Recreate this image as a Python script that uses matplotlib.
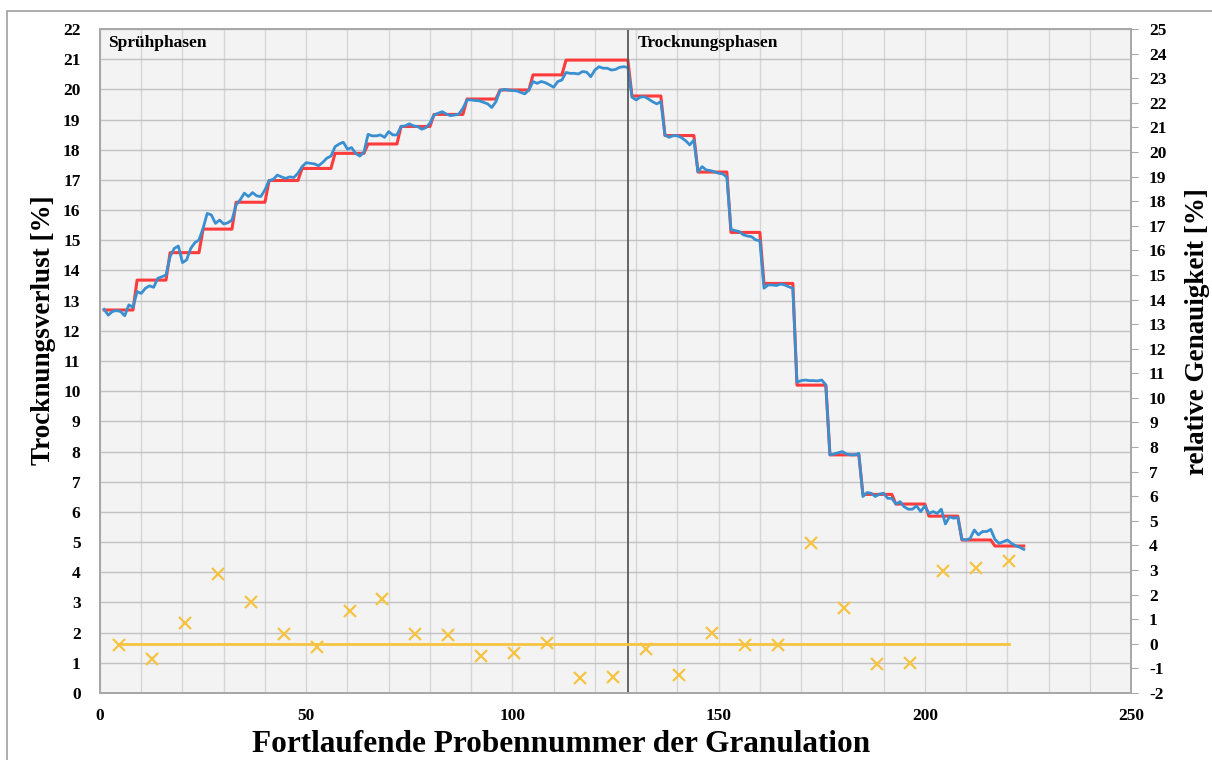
import numpy as np
import matplotlib.pyplot as plt
from matplotlib.patches import Rectangle

plt.rcParams['font.family'] = ['Liberation Serif', 'DejaVu Serif']
plt.rcParams['font.weight'] = 'bold'
plt.rcParams['axes.unicode_minus'] = False

# Trocknungsverlust je Probe (blau), Proben 1..224
verlust = [
    12.71, 12.52, 12.64, 12.67, 12.64, 12.50, 12.86, 12.78,
    13.30, 13.24, 13.41, 13.49, 13.44, 13.74, 13.79, 13.85,
    14.46, 14.73, 14.81, 14.26, 14.35, 14.73, 14.92, 15.01,
    15.40, 15.89, 15.84, 15.56, 15.67, 15.54, 15.58, 15.67,
    16.17, 16.34, 16.56, 16.45, 16.58, 16.47, 16.45, 16.67,
    16.98, 17.02, 17.16, 17.10, 17.05, 17.10, 17.08, 17.22,
    17.44, 17.57, 17.55, 17.53, 17.47, 17.58, 17.72, 17.79,
    18.10, 18.19, 18.25, 18.02, 18.07, 17.88, 17.79, 17.92,
    18.51, 18.46, 18.46, 18.49, 18.41, 18.60, 18.49, 18.49,
    18.77, 18.79, 18.86, 18.79, 18.77, 18.68, 18.73, 18.88,
    19.15, 19.21, 19.26, 19.18, 19.13, 19.15, 19.18, 19.37,
    19.65, 19.65, 19.63, 19.62, 19.57, 19.52, 19.40, 19.59,
    19.96, 20.00, 19.98, 19.96, 19.95, 19.90, 19.85, 19.98,
    20.26, 20.20, 20.26, 20.22, 20.15, 20.07, 20.26, 20.31,
    20.56, 20.53, 20.53, 20.51, 20.59, 20.57, 20.42, 20.64,
    20.75, 20.70, 20.70, 20.64, 20.66, 20.73, 20.75, 20.73,
    19.74, 19.65, 19.74, 19.76, 19.68, 19.59, 19.52, 19.59,
    18.49, 18.41, 18.47, 18.46, 18.40, 18.30, 18.16, 18.32,
    17.27, 17.44, 17.33, 17.31, 17.27, 17.22, 17.20, 17.09,
    15.36, 15.32, 15.29, 15.18, 15.14, 15.12, 15.01, 14.99,
    13.41, 13.52, 13.52, 13.50, 13.55, 13.52, 13.46, 13.41,
    10.30, 10.35, 10.37, 10.35, 10.35, 10.34, 10.37, 10.21,
    7.89, 7.92, 7.96, 8.00, 7.92, 7.89, 7.89, 7.94,
    6.51, 6.64, 6.62, 6.51, 6.59, 6.62, 6.45, 6.45,
    6.26, 6.34, 6.17, 6.09, 6.09, 6.20, 6.01, 6.20,
    5.95, 6.01, 5.95, 6.09, 5.60, 5.84, 5.79, 5.82,
    5.09, 5.07, 5.12, 5.40, 5.24, 5.35, 5.35, 5.42,
    5.09, 4.96, 5.01, 5.07, 4.96, 4.88, 4.83, 4.76,
]

# Referenzwert je Block von 8 Proben (rot)
referenz = [12.69, 13.68, 14.59, 15.37, 16.26, 16.98, 17.38, 17.88,
            18.19, 18.77, 19.17, 19.68, 19.98, 20.48, 20.97, 20.97,
            19.78, 18.47, 17.26, 15.26, 13.57, 10.20, 7.89, 6.58,
            6.26, 5.86, 5.07, 4.87]

# relative Genauigkeit je Block (gelb)
genauigkeit = [-0.05, -0.63, 0.83, 2.83, 1.72, 0.41, -0.12, 1.33,
               1.82, 0.41, 0.36, -0.50, -0.36, 0.02, -1.38, -1.34,
               -0.22, -1.27, 0.43, -0.05, -0.05, 4.09, 1.44, -0.82,
               -0.77, 2.97, 3.07, 3.37]
nulllinie = 0.0

block = 8
phasenwechsel = 128

probe = np.arange(1, len(verlust) + 1)
ref_kurve = np.repeat(referenz, block)
mitte = np.arange(len(genauigkeit)) * block + (block + 1) / 2

blau = '#3a8fd0'
rot = '#ff3b3b'
gelb = '#f6c342'

fig = plt.figure(figsize=(12.12, 7.6), dpi=100)
ax = fig.add_axes([100/1212, 1 - 693/760, 1031/1212, 664/760])
ax2 = ax.twinx()

ax.set_facecolor('#f3f3f3')
ax.plot(probe, ref_kurve, color=rot, lw=2.2, zorder=3)
ax.plot(probe, verlust, color=blau, lw=2.0, zorder=4)
ax.axvline(phasenwechsel, color='#5a5a5a', lw=1.3, zorder=5)

ax.set_xlim(0, 250)
ax.set_ylim(0, 22)
ax.set_xticks(np.arange(0, 251, 50))
ax.set_xticks(np.arange(0, 251, 10), minor=True)
ax.set_yticks(np.arange(0, 23, 1))
ax.grid(axis='x', which='both', color='#d6d6d6', lw=1.0, zorder=0)
ax.grid(axis='y', which='major', color='#c2c2c2', lw=1.0, zorder=0)
ax.set_axisbelow(True)
ax.tick_params(axis='both', which='both', length=0, labelsize=12.5)
ax.tick_params(axis='y', pad=14)
ax.tick_params(axis='x', pad=11)

ax2.plot(mitte, genauigkeit, ls='none', marker='x', ms=9, mew=1.6, color=gelb, zorder=6)
ax2.plot([mitte[0], mitte[-1]], [nulllinie, nulllinie], color=gelb, lw=2.0, zorder=5)
ax2.set_ylim(-2, 25)
ax2.set_yticks(np.arange(-2, 26, 1))
ax2.tick_params(axis='y', length=5, color='#a8a8a8', labelsize=12.5, pad=8)

for a in (ax, ax2):
    for s in a.spines.values():
        s.set_color('#a8a8a8')
        s.set_linewidth(1.3)

ax.set_xlabel('Fortlaufende Probennummer der Granulation', fontsize=22.5,
              fontweight='bold')
ax.xaxis.set_label_coords(0.447, -0.055)
ax.set_ylabel('Trocknungsverlust [%]', fontsize=19.5, fontweight='bold')
ax.yaxis.set_label_coords(-0.043, 0.547)
ax2.set_ylabel('relative Genauigkeit [%]', fontsize=19.5, fontweight='bold')
ax2.yaxis.set_label_coords(1.052, 0.545)

ax.text(2, 21.55, 'Sprühphasen', fontsize=12.5, fontweight='bold', va='center', zorder=7)
ax.text(130.5, 21.55, 'Trocknungsphasen', fontsize=12.5, fontweight='bold', va='center', zorder=7)

fig.patches.append(Rectangle((7/1212, -0.5), 2, 1 - 11/760 + 0.5, transform=fig.transFigure,
                             fill=False, edgecolor='#a0a0a0', lw=1.2))

fig.savefig('out.png', dpi=100)
